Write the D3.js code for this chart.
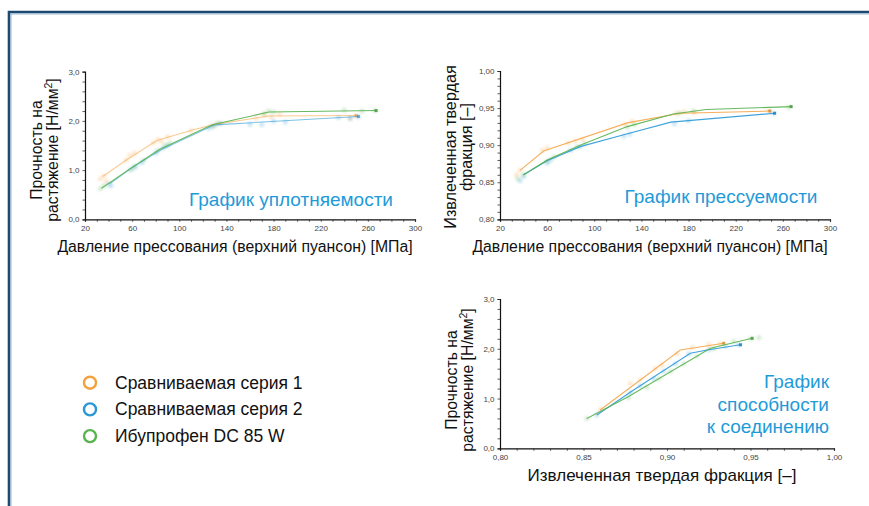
<!DOCTYPE html>
<html>
<head>
<meta charset="utf-8">
<script src="https://cdn.jsdelivr.net/npm/d3@7"></script>
<style>
  html, body { margin: 0; padding: 0; background: #ffffff; }
  svg { display: block; font-family: "Liberation Sans", Arial, Helvetica, sans-serif; }
</style>
</head>
<body>
<svg id="chart" width="869" height="506"></svg>
<script>
// ---- Series names and colours ----
const seriesNames = ["Сравниваемая серия 1", "Сравниваемая серия 2", "Ибупрофен DC 85 W"];
const seriesColors = ["#f5a03c", "#2a98d6", "#56b34e"];

// ---- Tick labels ----
const pressureTicks = [20, 60, 100, 140, 180, 220, 260, 300];
const strengthTicks = [0, 1, 2, 3];
const fractionTicks = [0.80, 0.85, 0.90, 0.95, 1.00];

// ---- Compactability: tensile strength vs. compaction pressure ----
const compactPressure = [
  [35, 56, 81, 112, 130, 176, 250],
  [41, 60, 85, 130, 252],
  [34, 59, 83, 128, 176, 267]
];
const compactStrength = [
  [0.87, 1.22, 1.60, 1.82, 1.93, 2.10, 2.11],
  [0.72, 1.05, 1.42, 1.92, 2.09],
  [0.63, 1.04, 1.42, 1.92, 2.18, 2.21]
];
const compactPointsP = [
  [33, 36, 38, 55, 58, 62, 78, 82, 85, 90, 110, 128, 134, 165, 172, 178, 185, 245, 250],
  [40, 42, 60, 63, 68, 80, 86, 90, 125, 130, 135, 160, 170, 180, 190, 235, 245, 252],
  [33, 36, 58, 62, 70, 82, 88, 92, 128, 132, 172, 176, 180, 240, 255, 266]
];
const compactPointsS = [
  [0.82, 0.88, 0.78, 1.20, 1.30, 1.35, 1.55, 1.62, 1.58, 1.68, 1.80, 1.90, 1.95, 2.05, 2.12, 2.08, 2.14, 2.05, 2.10],
  [0.72, 0.68, 1.02, 1.08, 1.15, 1.35, 1.45, 1.50, 1.85, 1.90, 1.95, 1.93, 1.92, 2.00, 1.98, 2.07, 2.05, 2.08],
  [0.62, 0.68, 1.00, 1.07, 1.20, 1.40, 1.50, 1.55, 1.88, 1.95, 2.15, 2.20, 2.18, 2.22, 2.20, 2.21]
];

// ---- Compressibility: solid fraction vs. compaction pressure ----
const pressPressure = [
  [37, 57, 128, 173, 249],
  [40, 60, 88, 125, 165, 253],
  [40, 60, 88, 128, 167, 195, 267]
];
const pressFraction = [
  [0.866, 0.892, 0.930, 0.943, 0.946],
  [0.860, 0.879, 0.898, 0.914, 0.931, 0.943],
  [0.860, 0.880, 0.900, 0.925, 0.942, 0.948, 0.952]
];
const pressPointsP = [
  [34, 37, 56, 60, 78, 84, 90, 126, 132, 170, 176, 185, 248],
  [37, 40, 60, 63, 80, 88, 125, 130, 168, 180, 252],
  [35, 40, 60, 66, 85, 92, 128, 134, 172, 184, 265]
];
const pressPointsF = [
  [0.860, 0.866, 0.893, 0.896, 0.903, 0.906, 0.908, 0.928, 0.932, 0.943, 0.945, 0.944, 0.946],
  [0.852, 0.858, 0.876, 0.880, 0.893, 0.898, 0.912, 0.915, 0.929, 0.933, 0.943],
  [0.855, 0.860, 0.878, 0.884, 0.898, 0.902, 0.924, 0.928, 0.943, 0.946, 0.951]
];

// ---- Bondability: tensile strength vs. solid fraction ----
const bondFraction = [
  [0.860, 0.908, 0.934],
  [0.858, 0.880, 0.914, 0.924, 0.944],
  [0.852, 0.877, 0.926, 0.951]
];
const bondStrength = [
  [0.77, 1.975, 2.11],
  [0.67, 1.17, 1.91, 1.975, 2.08],
  [0.60, 1.04, 2.01, 2.21]
];
const bondPointsF = [
  [0.860, 0.878, 0.884, 0.893, 0.897, 0.906, 0.915, 0.925, 0.932],
  [0.858, 0.878, 0.884, 0.892, 0.898, 0.905, 0.913, 0.925, 0.935, 0.943],
  [0.852, 0.877, 0.888, 0.895, 0.902, 0.910, 0.918, 0.928, 0.940, 0.950, 0.955]
];
const bondPointsS = [
  [0.78, 1.30, 1.38, 1.60, 1.67, 1.90, 2.02, 2.08, 2.10],
  [0.67, 1.12, 1.25, 1.40, 1.55, 1.70, 1.90, 1.98, 2.05, 2.08],
  [0.60, 1.02, 1.22, 1.40, 1.55, 1.70, 1.85, 2.00, 2.15, 2.20, 2.22]
];

const svg = d3.select("#chart");
const defs = svg.append("defs");
defs.append("filter").attr("id", "soft")
  .attr("x", "-50%").attr("y", "-50%").attr("width", "200%").attr("height", "200%")
  .append("feGaussianBlur").attr("stdDeviation", 1.0);

// Page frame
svg.append("path")
  .attr("d", "M9,506 V12 H869")
  .attr("fill", "none").attr("stroke", "#1d4a70").attr("stroke-width", 2.6);
svg.append("path")
  .attr("d", "M11,506 V14 H869")
  .attr("fill", "none").attr("stroke", "#7fa6c9").attr("stroke-width", 0.8);

const fmtComma = d => d3.format(".1f")(d).replace(".", ",");
const fmtComma2 = d => d3.format(".2f")(d).replace(".", ",");

function drawPanel(cfg) {
  const g = svg.append("g");
  const x = d3.scaleLinear().domain(cfg.xDomain).range(cfg.xRange);
  const y = d3.scaleLinear().domain(cfg.yDomain).range(cfg.yRange);

  // axes with minor ticks; labels only on major values
  const isMajor = (v, list) => list.some(t => Math.abs(t - v) < 1e-9);
  const xAxis = d3.axisBottom(x).tickValues(cfg.xMinor).tickSize(2.5).tickPadding(4)
    .tickFormat(v => isMajor(v, cfg.xTicks) ? cfg.xFmt(v) : "");
  const yAxis = d3.axisLeft(y).tickValues(cfg.yMinor).tickSize(2.5).tickPadding(3)
    .tickFormat(v => isMajor(v, cfg.yTicks) ? cfg.yFmt(v) : "");

  const gx = g.append("g").attr("transform", `translate(0,${cfg.yRange[0]})`).call(xAxis);
  const gy = g.append("g").attr("transform", `translate(${cfg.xRange[0]},0)`).call(yAxis);
  [gx, gy].forEach(a => {
    a.select(".domain").attr("stroke", "#111").attr("stroke-width", 1.2);
    a.selectAll(".tick line").attr("stroke", "#333").attr("stroke-width", 0.8);
    a.selectAll("text").attr("font-size", 8).attr("fill", "#444")
      .attr("font-family", "Liberation Sans, Arial, sans-serif");
  });

  // faint measurement points
  const pts = g.append("g").attr("filter", "url(#soft)");
  cfg.px.forEach((xs, s) => {
    xs.forEach((xv, i) => {
      pts.append("circle")
        .attr("cx", x(xv)).attr("cy", y(cfg.py[s][i]))
        .attr("r", 2.5)
        .attr("fill", seriesColors[s]).attr("opacity", 0.24);
    });
  });

  // mean curves
  const line = d3.line().x(d => x(d[0])).y(d => y(d[1]));
  cfg.lx.forEach((xs, s) => {
    const data = xs.map((v, i) => [v, cfg.ly[s][i]]);
    g.append("path").datum(data)
      .attr("d", line)
      .attr("fill", "none")
      .attr("stroke", seriesColors[s])
      .attr("stroke-width", 1.1)
      .attr("opacity", cfg.lineOpacity[s]);
    const last = data[data.length - 1];
    g.append("rect")
      .attr("x", x(last[0]) - 1.5).attr("y", y(last[1]) - 1.5)
      .attr("width", 3).attr("height", 3)
      .attr("fill", d3.color(seriesColors[s]).darker(0.4))
      .attr("opacity", cfg.lineOpacity[s]);
  });

  // axis titles
  const yt = g.append("text")
    .attr("transform", `translate(${cfg.yTitleX},${cfg.yTitleY}) rotate(-90)`)
    .attr("text-anchor", "middle").attr("font-size", cfg.yTitleSize).attr("fill", "#111");
  cfg.yTitle.forEach((ln, i) => {
    yt.append("tspan").attr("x", 0).attr("dy", i === 0 ? 0 : 15.5).html(ln);
  });
  g.append("text")
    .attr("x", cfg.xTitleX).attr("y", cfg.xTitleY)
    .attr("text-anchor", "middle").attr("font-size", cfg.xTitleSize).attr("fill", "#111")
    .text(cfg.xTitle);

  // panel caption
  const cap = g.append("text")
    .attr("text-anchor", cfg.capAnchor).attr("font-size", 19).attr("fill", "#1f9ad8");
  cfg.caption.forEach((ln, i) => {
    cap.append("tspan").attr("x", cfg.capX).attr("y", cfg.capY + i * 22.5).text(ln);
  });
}

const pressureMinor = d3.range(20, 301, 10);
const strengthMinor = d3.range(0, 3.01, 0.2).map(v => +v.toFixed(1));
const fractionMinorY = d3.range(0.80, 1.0001, 0.01).map(v => +v.toFixed(2));
const fractionMinorX = d3.range(0.80, 1.0001, 0.01).map(v => +v.toFixed(2));

const strengthTitle = ["Прочность на", "растяжение [Н/мм<tspan dy='-6' font-size='10.5'>2</tspan><tspan dy='6'>]</tspan>"];

drawPanel({
  xDomain: [20, 300], xRange: [85, 415],
  yDomain: [0, 3], yRange: [219.3, 71.7],
  xTicks: pressureTicks, xMinor: pressureMinor, xFmt: d => d,
  yTicks: strengthTicks, yMinor: strengthMinor, yFmt: fmtComma,
  px: compactPointsP, py: compactPointsS,
  lx: compactPressure, ly: compactStrength,
  lineOpacity: [0.55, 0.6, 0.9],
  yTitle: strengthTitle, yTitleSize: 15.8,
  yTitleX: 42, yTitleY: 150,
  xTitle: "Давление прессования (верхний пуансон) [МПа]", xTitleX: 235, xTitleY: 252, xTitleSize: 15.8,
  caption: ["График уплотняемости"], capX: 291, capY: 206, capAnchor: "middle"
});

drawPanel({
  xDomain: [20, 300], xRange: [500, 830],
  yDomain: [0.80, 1.00], yRange: [219.3, 71],
  xTicks: pressureTicks, xMinor: pressureMinor, xFmt: d => d,
  yTicks: fractionTicks, yMinor: fractionMinorY, yFmt: fmtComma2,
  px: pressPointsP, py: pressPointsF,
  lx: pressPressure, ly: pressFraction,
  lineOpacity: [0.85, 0.9, 0.9],
  yTitle: ["Извлеченная твердая", "фракция [–]"], yTitleSize: 16.2,
  yTitleX: 456, yTitleY: 147,
  xTitle: "Давление прессования (верхний пуансон) [МПа]", xTitleX: 650, xTitleY: 252, xTitleSize: 15.8,
  caption: ["График прессуемости"], capX: 721, capY: 203, capAnchor: "middle"
});

drawPanel({
  xDomain: [0.80, 1.00], xRange: [500, 834],
  yDomain: [0, 3], yRange: [448.3, 299],
  xTicks: fractionTicks, xMinor: fractionMinorX, xFmt: fmtComma2,
  yTicks: strengthTicks, yMinor: strengthMinor, yFmt: fmtComma,
  px: bondPointsF, py: bondPointsS,
  lx: bondFraction, ly: bondStrength,
  lineOpacity: [0.85, 0.9, 0.9],
  yTitle: strengthTitle, yTitleSize: 15.8,
  yTitleX: 457, yTitleY: 380,
  xTitle: "Извлеченная твердая фракция [–]", xTitleX: 662, xTitleY: 481, xTitleSize: 17,
  caption: ["График", "способности", "к соединению"], capX: 829, capY: 388, capAnchor: "end"
});

// Legend
const legend = svg.append("g");
seriesNames.forEach((name, i) => {
  const cy = 382.7 + i * 26.7;
  legend.append("circle").attr("cx", 90).attr("cy", cy).attr("r", 6)
    .attr("fill", "none").attr("stroke", seriesColors[i]).attr("stroke-width", 2.4);
  legend.append("text").attr("x", 115).attr("y", cy + 6)
    .attr("font-size", 17.5).attr("fill", "#111").text(name);
});
</script>
</body>
</html>
